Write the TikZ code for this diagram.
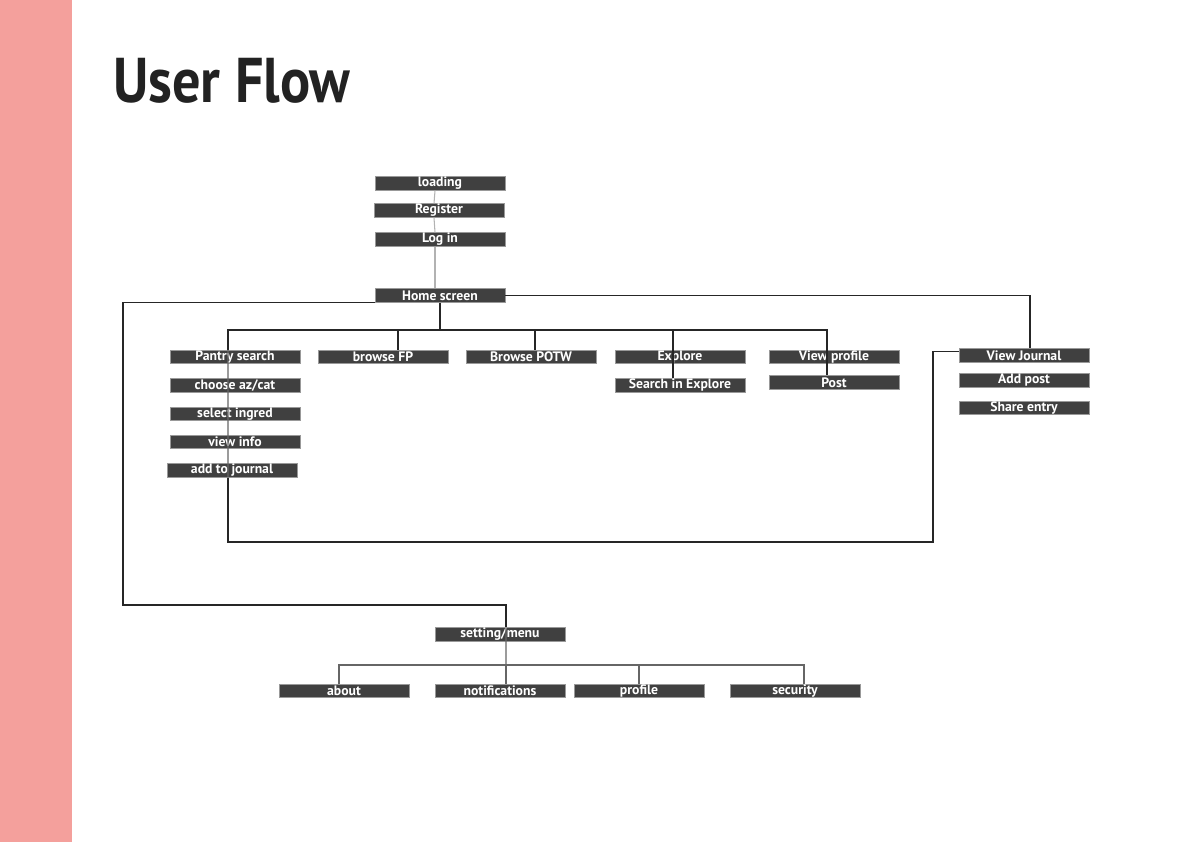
\documentclass[tikz,border=0pt]{standalone}
\usepackage{fontspec}
\setmainfont{PT Sans}
\usetikzlibrary{positioning}
\definecolor{bandpink}{RGB}{244,160,156}
\definecolor{boxgray}{RGB}{64,64,64}
\definecolor{titleink}{RGB}{34,34,34}

\begin{document}
\begin{tikzpicture}[
    x=0.02cm, y=-0.02cm,
    node distance=0.28cm,
    font=\fontsize{7.8}{8}\selectfont\bfseries,
    screen/.style={draw=black!40, fill=boxgray, text=white, line width=0.5pt, minimum width=2.6cm, minimum height=0.27cm, inner sep=0pt},
    link/.style={line width=0.6pt, black!85},
    trail/.style={line width=0.6pt, black!30},
    branch/.style={line width=0.6pt, black!60}
  ]
    \useasboundingbox (0,0) rectangle (1191,842);
    \fill[bandpink] (0,0) rectangle (72,842);
    \node[anchor=base west, inner sep=0pt, text=titleink, font=\fontsize{36}{40}\selectfont\bfseries] (title) at (113,102) {\scalebox{0.89}[1]{User Flow}};
    % entry
    \node[screen] (loading) at (440,183.5) {loading};
    \node[screen] (register) at (439,210.5) {Register};
    \node[screen] (login) at (440,239.5) {Log in};
    \node[screen] (home) at (440,295.5) {Home screen};
    % main branches
    \node[screen] (pantry) at (235,357) {Pantry search};
    \node[screen, below=of pantry] (choose) {choose az/cat};
    \node[screen, below=of choose] (ingred) {select ingred};
    \node[screen, below=of ingred] (info) {view info};
    \node[screen, below=of info, xshift=-0.06cm] (addjournal) {add to journal};
    \node[screen] (browse) at (383,357) {browse FP};
    \node[screen] (potw) at (531,357) {Browse POTW};
    \node[screen] (explore) at (680,357) {Explore};
    \node[screen, below=of explore] (searchex) {Search in Explore};
    \node[screen] (viewprof) at (834,357) {View profile};
    \node[screen, below=0.22cm of viewprof] (post) {Post};
    \node[screen] (journal) at (1024,355.5) {View Journal};
    \node[screen, below=0.21cm of journal] (addpost) {Add post};
    \node[screen, below=0.26cm of addpost] (share) {Share entry};
    % settings
    \node[screen] (menu) at (500,634.5) {setting/menu};
    \node[screen] (about) at (344,691) {about};
    \node[screen] (notif) at (500,691) {notifications};
    \node[screen] (profile) at (639,691) {profile};
    \node[screen] (security) at (795,691) {security};
    \coordinate (hub) at (440,330);
    \coordinate (leftturn) at (123,605);
    \coordinate (menuhub) at (506,665);
    \coordinate (backturn) at (933,542);
    % connectors
    \foreach \a/\b in {loading/register, register/login, login/home}
      \draw[trail] ([xshift=-0.1cm]\a.south) -- ([xshift=-0.1cm]\b.north);
    \draw[link] (home.south) -- (hub);
    \draw[link] ([xshift=-0.14cm]pantry.north) |- (hub);
    \draw[link] ([xshift=0.3cm]browse.north) |- (hub);
    \draw[link] ([xshift=0.08cm]potw.north) |- (hub);
    \draw[link] ([xshift=-0.14cm]searchex.north) |- (hub);
    \draw[link] ([xshift=-0.14cm]post.north) |- (hub);
    \draw[branch] ([xshift=-0.14cm]pantry.north) -- ([xshift=-0.08cm]addjournal.south);
    \draw[link] ([xshift=-0.08cm]addjournal.south) |- (backturn) |- ([yshift=0.08cm]journal.west);
    \draw[link] (home.east) -| ([xshift=0.12cm]journal.north);
    \draw[link] (home.south west) -| (leftturn) -| ([xshift=0.12cm]menu.north);
    \draw[branch] ([xshift=0.12cm]menu.north) -- (menuhub);
    \foreach \n/\s in {about/-0.1cm, notif/0.12cm, profile/0cm, security/0.18cm}
      \draw[branch] ([xshift=\s]\n.north) |- (menuhub);
  \end{tikzpicture}
\end{document}
